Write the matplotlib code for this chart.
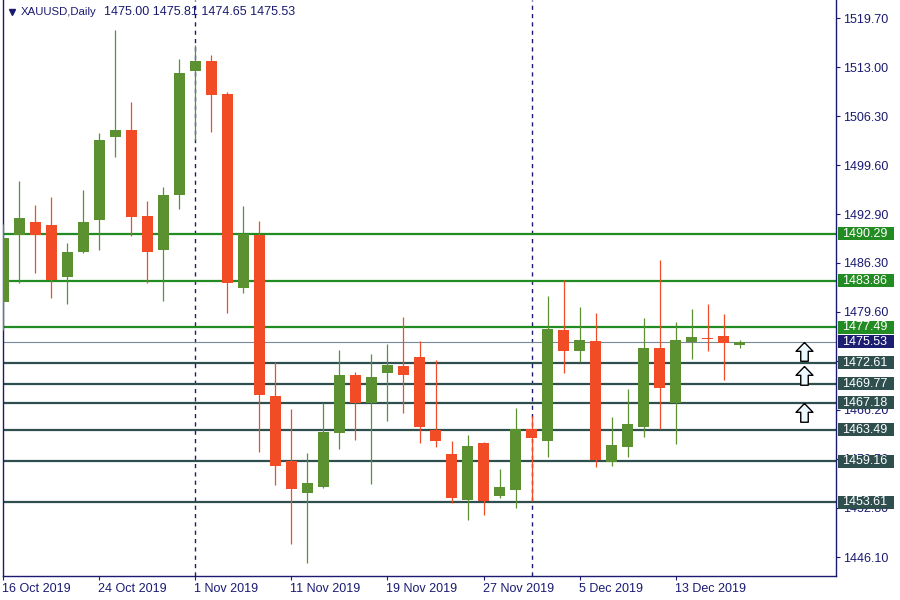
import matplotlib
matplotlib.use('Agg')
import matplotlib.pyplot as plt
import matplotlib.transforms as mtransforms
from matplotlib.patches import Rectangle
from matplotlib.path import Path
import pandas as pd

plt.rcParams['font.family'] = ['Liberation Sans', 'DejaVu Sans']
plt.rcParams['font.size'] = 9

# =============================================================================
#                                  Chart data                                  #
# =============================================================================

symbol = "XAUUSD,Daily"
first_day = "2019-10-16"

opens = [1481.0, 1490.1, 1491.9, 1491.5, 1484.4, 1487.8, 1492.2, 1503.5, 1504.4, 1492.7,
         1488.0, 1495.6, 1512.5, 1513.9, 1509.4, 1482.8, 1490.1, 1468.1, 1459.2, 1454.9,
         1455.7, 1463.1, 1471.0, 1467.2, 1471.2, 1472.2, 1473.4, 1463.5, 1460.2, 1453.9,
         1461.7, 1454.5, 1455.2, 1463.6, 1461.9, 1477.1, 1474.3, 1475.6, 1459.1, 1461.2,
         1463.9, 1474.7, 1467.2, 1475.5, 1476.0, 1476.3, 1475.00]
highs = [1491.6, 1497.5, 1494.2, 1495.3, 1489.0, 1496.2, 1504.0, 1518.1, 1508.3, 1494.7,
         1496.7, 1514.1, 1516.1, 1514.7, 1509.6, 1494.1, 1492.0, 1472.8, 1466.3, 1460.3,
         1467.2, 1474.4, 1471.4, 1473.8, 1475.2, 1478.9, 1475.6, 1473.0, 1462.0, 1462.8,
         1461.8, 1458.1, 1466.5, 1465.4, 1481.8, 1484.0, 1480.3, 1479.4, 1465.2, 1469.1,
         1478.8, 1486.7, 1478.2, 1480.0, 1480.7, 1479.3, 1475.81]
lows = [1477.1, 1483.5, 1484.9, 1481.5, 1480.7, 1487.7, 1488.0, 1500.7, 1489.9, 1483.5,
        1481.1, 1493.7, 1503.1, 1504.2, 1479.5, 1482.2, 1460.5, 1455.9, 1447.9, 1445.3,
        1455.6, 1460.9, 1462.1, 1456.1, 1464.7, 1465.8, 1461.7, 1461.2, 1453.5, 1451.2,
        1451.9, 1454.1, 1452.8, 1453.7, 1459.7, 1471.3, 1472.7, 1458.4, 1458.6, 1459.7,
        1462.5, 1463.6, 1461.6, 1473.2, 1474.3, 1470.3, 1474.65]
closes = [1489.7, 1492.4, 1490.1, 1484.0, 1487.8, 1491.9, 1503.1, 1504.4, 1492.6, 1487.8,
          1495.6, 1512.2, 1513.9, 1509.2, 1483.6, 1490.2, 1468.3, 1458.6, 1455.4, 1456.2,
          1463.2, 1471.0, 1467.2, 1470.7, 1472.3, 1471.0, 1463.8, 1461.9, 1454.2, 1461.3,
          1453.7, 1455.7, 1463.6, 1462.4, 1477.3, 1474.2, 1475.8, 1459.4, 1461.4, 1464.3,
          1474.7, 1469.2, 1475.8, 1476.2, 1475.95, 1475.4, 1475.53]

# resistance levels (green) and support levels (dark slate)
resistance = [1490.29, 1483.86, 1477.49]
support = [1472.61, 1469.77, 1467.18, 1463.49, 1459.16, 1453.61]
price_axis = [1519.70, 1513.00, 1506.30, 1499.60, 1492.90, 1486.30, 1479.60,
              1472.90, 1466.20, 1459.50, 1452.80, 1446.10]
# buy arrows drawn a few bars to the right of the last candle
arrow_prices = [1475.53, 1472.15, 1467.18]
arrow_bar = 50

_UP = '#5b9131'
_DOWN = '#f24c27'
_RES = '#228b22'
_SUP = '#2f4f4f'
_NAVY = '#1a1a72'
_LAST = '#778899'

dates = pd.bdate_range(first_day, periods=len(opens))
last = closes[-1]

# =============================================================================
#                                   Drawing                                    #
# =============================================================================

fig = plt.figure(figsize=(9, 6), dpi=100)
ax = fig.add_axes([3 / 900, 24 / 600, 833 / 900, 576 / 600])
ax.set_xlim(-0.03, 52.03)
ax.set_ylim(1443.51, 1522.2)

# period separators on the first bar of every month
for i in range(1, len(dates)):
    if dates[i].month != dates[i - 1].month:
        ax.axvline(i, color=_NAVY, lw=1, ls=(0, (3, 3)), zorder=1)

for y in resistance:
    ax.axhline(y, color=_RES, lw=1.6, zorder=2)
for y in support:
    ax.axhline(y, color=_SUP, lw=1.6, zorder=2)
ax.axhline(last, color=_LAST, lw=0.8, zorder=2)

# candles
for i, (o, h, l, c) in enumerate(zip(opens, highs, lows, closes)):
    col = _UP if c >= o else _DOWN
    ax.vlines(i, l, h, color=col, lw=0.9, zorder=3)
    ax.bar(i, max(abs(c - o), 0.14), bottom=min(o, c), width=0.69, color=col,
           linewidth=0, zorder=4)

# hollow up arrows, tip on the price
arrow = Path([(0, 0), (0.45, -0.47), (0.2, -0.47), (0.2, -1), (-0.2, -1),
              (-0.2, -0.47), (-0.45, -0.47), (0, 0)])
ax.plot([arrow_bar] * len(arrow_prices), arrow_prices, ls='none', marker=arrow,
        ms=27, mfc='#eef8ff', mec='black', mew=1.0, zorder=5, clip_on=False)

# axes styling
for side in ['left', 'right', 'bottom']:
    ax.spines[side].set_color(_NAVY)
    ax.spines[side].set_linewidth(1)
ax.spines['top'].set_visible(False)

ax.yaxis.tick_right()
ax.set_yticks(price_axis)
ax.set_yticklabels(['%.2f' % v for v in price_axis])
ax.tick_params(axis='y', direction='out', length=3, width=0.8, color=_NAVY,
               labelcolor=_NAVY, pad=2, labelsize=9)

ticks = list(range(0, len(dates), 6))
ax.set_xticks(ticks)
ax.set_xticklabels([dates[t].strftime('%d %b %Y').lstrip('0') for t in ticks], ha='left')
ax.tick_params(axis='x', direction='out', length=3, width=0.8, color=_NAVY,
               labelcolor=_NAVY, pad=2, labelsize=9)
offset = mtransforms.ScaledTranslation(-1 / 100, 0, fig.dpi_scale_trans)
for lab in ax.get_xticklabels():
    lab.set_transform(lab.get_transform() + offset)

# price labels on the axis
blend = mtransforms.blended_transform_factory(ax.transAxes, ax.transData)
box_w = 56 / 833
box_h = 13 / 7.32
levels = [(v, _RES) for v in resistance] + [(last, '#1c1c70')] + [(v, _SUP) for v in support]
for v, col in levels:
    ax.add_patch(Rectangle((1.0025, v - box_h / 2), box_w, box_h, transform=blend,
                           facecolor=col, edgecolor='none', clip_on=False, zorder=6))
    ax.text(1.0072, v, '%.2f' % v, transform=blend, color='white', fontsize=9,
            ha='left', va='center', zorder=7, clip_on=False)

# header
ax.plot([9 / 833], [1 - 12 / 576], transform=ax.transAxes, marker='v', ms=5,
        color=_NAVY, ls='none', clip_on=False, zorder=7)
ax.text(18 / 833, 1 - 12 / 576, symbol, transform=ax.transAxes, color=_NAVY,
        fontsize=8.2, ha='left', va='center')
ax.text(101 / 833, 1 - 12 / 576,
        '%.2f %.2f %.2f %.2f' % (opens[-1], highs[-1], lows[-1], closes[-1]),
        transform=ax.transAxes, color=_NAVY, fontsize=9, ha='left', va='center')

fig.savefig('out.png', dpi=100)
